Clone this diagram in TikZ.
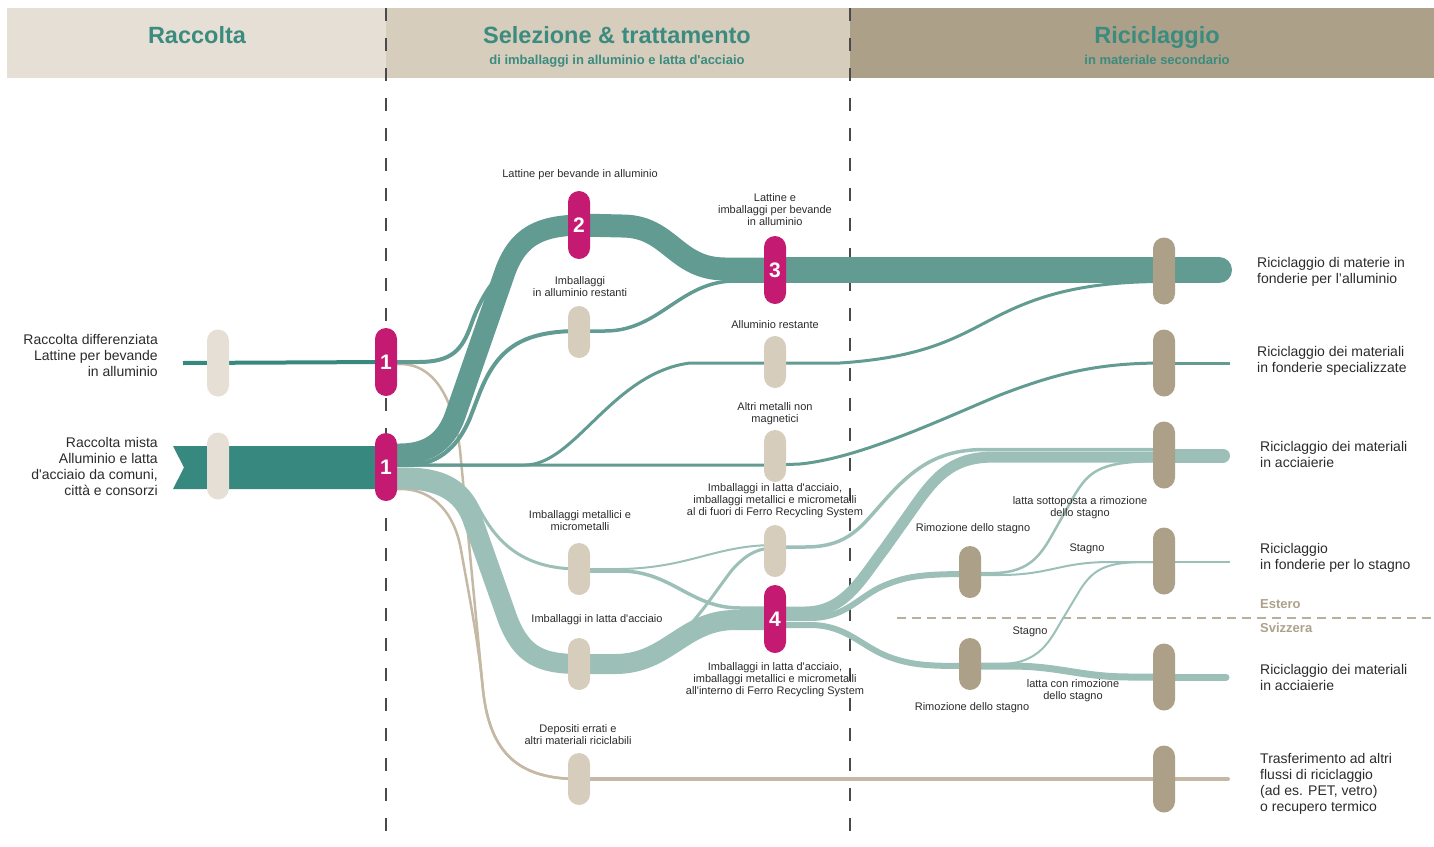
\documentclass[tikz,border=0pt]{standalone}
\usepackage{fontspec}
\setmainfont{Liberation Sans}
\usetikzlibrary{calc}
\pgfdeclarelayer{back}
\pgfdeclarelayer{flows}
\pgfsetlayers{back,flows,main}
\definecolor{headA}{HTML}{E6DFD5}
\definecolor{headB}{HTML}{D6CDBD}
\definecolor{headC}{HTML}{ACA089}
\definecolor{htext}{HTML}{3B8B7F}
\definecolor{tealD}{HTML}{37887E}
\definecolor{tealM}{HTML}{629B92}
\definecolor{tealL}{HTML}{9CC0B7}
\definecolor{beigeL}{HTML}{C5B9A5}
\definecolor{mag}{HTML}{C51A72}
\definecolor{pillAc}{HTML}{E6DFD5}
\definecolor{pillBc}{HTML}{D6CDBD}
\definecolor{pillCc}{HTML}{ACA089}
\definecolor{txt}{HTML}{2B2B2B}
\definecolor{dashc}{HTML}{4A4A4A}
\definecolor{estc}{HTML}{ADA18A}
\begin{document}
\begin{tikzpicture}[x=1pt,y=-1pt,
  pill/.style={rectangle, rounded corners=11pt, minimum width=22pt, inner sep=0pt, outer sep=0pt},
  pillA/.style={pill, fill=pillAc, minimum height=67pt},
  pillB/.style={pill, fill=pillBc, minimum height=52pt},
  pillC/.style={pill, fill=pillCc, minimum height=67pt},
  pillT/.style={pill, fill=pillCc, minimum height=52pt},
  magp/.style={pill, fill=mag, minimum height=68pt, text=white, font=\bfseries\fontsize{21}{21}\selectfont},
  lbl/.style={font=\fontsize{11}{12}\selectfont, text=txt, align=center, inner sep=0pt},
  rlbl/.style={font=\fontsize{14}{16}\selectfont, text=txt, align=left, anchor=west, inner sep=0pt},
  llbl/.style={font=\fontsize{14}{16}\selectfont, text=txt, align=right, anchor=east, inner sep=0pt},
  htitle/.style={font=\bfseries\fontsize{23.5}{24}\selectfont, text=htext, inner sep=0pt, anchor=base},
  hsub/.style={font=\bfseries\fontsize{13}{14}\selectfont, text=htext, inner sep=0pt, anchor=base},
  estlbl/.style={font=\bfseries\fontsize{13}{14}\selectfont, text=estc, anchor=west, inner sep=0pt},
  vdash/.style={dashc, line width=1.3pt, dash pattern=on 13pt off 17pt},
  fl/.style={line cap=butt, line join=round},
  endcap/.style={line cap=round}
]
\useasboundingbox (0,0) rectangle (1434,846);

% ---------- header ----------
\begin{pgfonlayer}{back}
  \fill[headA] (7,8) rectangle (386,78);
  \fill[headB] (386,8) rectangle (850,78);
  \fill[headC] (850,8) rectangle (1434,78);
  \draw[vdash] (386,8) -- (386,852);
  \draw[vdash] (850,8) -- (850,852);
  \draw[estc!85, line width=1.2pt, dash pattern=on 9pt off 6pt] (897,618) -- (1434,618);
\end{pgfonlayer}
\node[htitle] (h1) at (197,43.5) {Raccolta};
\node[htitle] (h2) at (617,43.5) {Selezione \& trattamento};
\node[hsub] (h2s) at (617,64) {di imballaggi in alluminio e latta d\textquotesingle acciaio};
\node[htitle] (h3) at (1157,43.5) {Riciclaggio};
\node[hsub] (h3s) at (1157,64) {in materiale secondario};

% ---------- pills ----------
\node[pillA] (c1) at (218,363) {};
\node[pillA] (c2) at (218,466) {};
\node[magp] (m1a) at (386,362) {1};
\node[magp] (m1b) at (386,467) {1};
\node[magp] (m2) at (579,225) {2};
\node[magp] (m3) at (775,270) {3};
\node[magp] (m4) at (775,619) {4};
\node[pillB] (srest) at (579,332) {};
\node[pillB] (smet) at (579,569) {};
\node[pillB] (slat) at (579,664) {};
\node[pillB] (sdep) at (579,779) {};
\node[pillB] (salu) at (775,362) {};
\node[pillB] (saltri) at (775,456) {};
\node[pillB] (sfuori) at (775,551) {};
\node[pillT] (t1) at (970,572) {};
\node[pillT] (t2) at (970,664) {};
\node[pillC] (r1) at (1164,271) {};
\node[pillC] (r2) at (1164,363) {};
\node[pillC] (r3) at (1164,455) {};
\node[pillC] (r4) at (1164,561) {};
\node[pillC] (r5) at (1164,677) {};
\node[pillC] (r6) at (1164,779) {};

% ---------- flows ----------
\begin{pgfonlayer}{flows}
  % collection
  \draw[fl, tealD, line width=4pt] (183,363) -- (m1a.center);
  \fill[tealD] (173,446) -- (m1b.center |- 0,446) -- (m1b.center |- 0,489) -- (173,489) -- (184,467.5) -- cycle;
  % beige: erroneous deposits
  \draw[fl, beigeL, line width=2.5pt] ($(m1a.center)+(0,2)$) -- (400,364) .. controls (440,364) and (455,410) .. (460,450) -- (483,690) .. controls (490,755) and (520,779) .. (sdep.center);
  \draw[fl, beigeL, line width=2.5pt] ($(m1b.center)+(0,22)$) -- (400,489) .. controls (435,489) and (455,515) .. (461,550) .. controls (470,600) and (478,640) .. (483,690) .. controls (490,755) and (520,779) .. (sdep.center);
  \draw[fl, beigeL, line width=4pt] (sdep.center) -- (r6.center);
  \draw[endcap, beigeL, line width=4pt] (r6.center) -- (1228,779);
  % aluminium
  \draw[fl, tealM, line width=4pt] (m1a.center) -- (418,362) .. controls (452,362) and (462,350) .. (471,325) .. controls (478,305) and (487,288) .. (502,272);
  \draw[fl, tealM, line width=21pt] ($(m1b.center)+(0,-13)$) -- (400,454) .. controls (432,454) and (447,438) .. (455,416) -- (505,272) .. controls (518,236) and (540,226) .. (m2.center);
  \draw[fl, tealM, line width=4pt] ($(m1b.center)+(0,-2)$) -- (408,465) .. controls (442,465) and (460,442) .. (470,418) -- (480,392) .. controls (497,350) and (520,331) .. (579,331);
  \draw[fl, tealM, line width=23pt] (m2.center) -- (622,226) .. controls (670,226) and (675,269) .. (725,269) -- (775,269);
  \draw[fl, tealM, line width=3.5pt] (579,331) -- (605,331) .. controls (660,331) and (680,281) .. (735,281) -- (775,281);
  \draw[fl, tealM, line width=26pt] (m3.center) -- (r1.center |- 0,270);
  \draw[endcap, tealM, line width=26pt] (r1.center |- 0,270) -- (1219,270);
  % alluminio restante
  \draw[fl, tealM, line width=3pt] ($(m1b.center)+(0,-2)$) -- (525,465) .. controls (575,465) and (612,373) .. (690,363) -- (salu.center |- 0,363);
  \draw[fl, tealM, line width=3pt] (salu.center |- 0,363) -- (840,363) .. controls (930,357) and (960,335) .. (1000,315) .. controls (1040,295) and (1085,281.5) .. (r1.center |- 0,281.5);
  % altri metalli non magnetici
  \draw[fl, tealM, line width=3pt] ($(m1b.center)+(0,-2)$) -- (saltri.center |- 0,465) -- (800,464) .. controls (860,458) and (940,420) .. (1000,395) .. controls (1060,372) and (1100,363) .. (r2.center);
  \draw[fl, tealM, line width=3pt] (r2.center) -- (1230,363);
  % steel
  \draw[fl, tealL, line width=20pt] ($(m1b.center)+(0,12)$) -- (400,479) .. controls (440,479) and (462,492) .. (472,518) -- (508,620) .. controls (522,655) and (540,664) .. (slat.center);
  \draw[fl, tealL, line width=3pt] ($(m1b.center)+(0,2)$) -- (405,469) .. controls (442,469) and (464,480) .. (477,505) .. controls (495,540) and (520,569) .. (smet.center);
  \draw[fl, tealL, line width=2pt] (smet.center) -- (620,569) .. controls (690,568) and (715,545) .. (sfuori.center |- 0,545);
  \draw[fl, tealL, line width=3.5pt] ($(smet.center)+(0,2)$) -- (620,571) .. controls (672,571) and (690,608) .. (740,608) -- (m4.center |- 0,608);
  \draw[fl, tealL, line width=20pt] (slat.center) -- (615,664) .. controls (668,664) and (683,620) .. (735,620) -- (m4.center |- 0,620);
  \draw[fl, tealL, line width=3pt] (640,655) .. controls (680,650) and (705,605) .. (732,570) .. controls (748,552) and (760,548) .. (sfuori.center |- 0,548);
  % out of Ferro Recycling (fuori) -> steelworks
  \draw[fl, tealL, line width=3.5pt] (sfuori.center |- 0,547) -- (805,547) .. controls (850,547) and (862,525) .. (885,500) .. controls (915,466) and (940,449.5) .. (985,449.5) -- (r3.center |- 0,449.5);
  % 4 -> steelworks
  \draw[fl, tealL, line width=11pt] (m4.center |- 0,612) -- (805,612) .. controls (845,612) and (862,578) .. (885,548) -- (912,510) .. controls (938,472) and (955,457) .. (995,457) -- (r3.center |- 0,457);
  \draw[endcap, tealL, line width=14pt] (r3.center |- 0,455.5) -- (1223,455.5);
  % 4 -> tin removal
  \draw[fl, tealL, line width=6pt] (m4.center |- 0,618) -- (810,618) .. controls (848,618) and (860,594) .. (888,584) .. controls (908,576) and (925,574) .. (t1.center |- 0,574);
  \draw[fl, tealL, line width=6pt] (m4.center |- 0,625) -- (810,625) .. controls (848,625) and (862,648) .. (892,658) .. controls (915,666) and (935,666) .. (t2.center |- 0,666);
  % tin removal 1
  \draw[fl, tealL, line width=2.5pt] (t1.center |- 0,573) -- (995,573) .. controls (1032,572) and (1042,553) .. (1056,528) -- (1074,496) .. controls (1090,469) and (1102,461) .. (r3.center |- 0,461);
  \draw[fl, tealL, line width=2pt] (t1.center |- 0,575) -- (1000,575) .. controls (1050,575) and (1060,562) .. (1110,562) -- (r4.center |- 0,562);
  % tin removal 2
  \draw[fl, tealL, line width=2pt] (t2.center) -- (1000,664) .. controls (1040,664) and (1050,640) .. (1062,620) -- (1080,590) .. controls (1095,566) and (1110,562) .. (1150,562) -- (r4.center |- 0,562);
  \draw[fl, tealL, line width=7pt] (t2.center |- 0,666) -- (1010,666) .. controls (1060,666) and (1080,677) .. (1130,677) -- (r5.center);
  \draw[fl, tealL, line width=2.5pt] (r4.center |- 0,562) -- (1230,562);
  \draw[endcap, tealL, line width=7pt] (r5.center) -- (1226,677);
\end{pgfonlayer}

% ---------- left labels ----------
\node[llbl] (lab-c1) at (158,355) {Raccolta differenziata\\Lattine per bevande\\in alluminio};
\node[llbl] (lab-c2) at (158,466) {Raccolta mista\\Alluminio e latta\\d\textquotesingle acciaio da comuni,\\città e consorzi};

% ---------- middle labels ----------
\node[lbl] (l-lat) at (580,175) {Lattine per bevande in alluminio};
\node[lbl] (l-rest) at (580,287) {Imballaggi\\in alluminio restanti};
\node[lbl] (l-3) at (775,210) {Lattine e\\imballaggi per bevande\\in alluminio};
\node[lbl] (l-alu) at (775,325) {Alluminio restante};
\node[lbl] (l-altri) at (775,414) {Altri metalli non\\magnetici};
\node[lbl] (l-fuori) at (775,501) {Imballaggi in latta d\textquotesingle acciaio,\\imballaggi metallici e micrometalli\\al di fuori di Ferro Recycling System};
\node[lbl] (l-met) at (580,521) {Imballaggi metallici e\\micrometalli};
\node[lbl] (l-latta) at (597,620) {Imballaggi in latta d\textquotesingle acciaio};
\node[lbl] (l-4) at (775,680) {Imballaggi in latta d\textquotesingle acciaio,\\imballaggi metallici e micrometalli\\all\textquotesingle interno di Ferro Recycling System};
\node[lbl] (l-dep) at (578,735) {Depositi errati e\\altri materiali riciclabili};
\node[lbl] (l-rim1) at (973,529) {Rimozione dello stagno};
\node[lbl] (l-sott) at (1080,508) {latta sottoposta a rimozione\\dello stagno};
\node[lbl] (l-st1) at (1087,549) {Stagno};
\node[lbl] (l-st2) at (1030,632) {Stagno};
\node[lbl] (l-con) at (1073,691) {latta con rimozione\\dello stagno};
\node[lbl] (l-rim2) at (972,708) {Rimozione dello stagno};

% ---------- right labels ----------
\node[rlbl] (lab-r1) at (1257,272) {Riciclaggio di materie in\\fonderie per l’alluminio};
\node[rlbl] (lab-r2) at (1257,361) {Riciclaggio dei materiali\\in fonderie specializzate};
\node[rlbl] (lab-r3) at (1260,454) {Riciclaggio dei materiali\\in acciaierie};
\node[rlbl] (lab-r4) at (1260,558) {Riciclaggio\\in fonderie per lo stagno};
\node[rlbl] (lab-r5) at (1260,677) {Riciclaggio dei materiali\\in acciaierie};
\node[rlbl] (lab-r6) at (1260,784) {Trasferimento ad altri\\flussi di riciclaggio\\(ad es. PET, vetro)\\o recupero termico};
\node[estlbl] (est) at (1260,604) {Estero};
\node[estlbl] (svi) at (1260,628) {Svizzera};
\end{tikzpicture}
\end{document}
